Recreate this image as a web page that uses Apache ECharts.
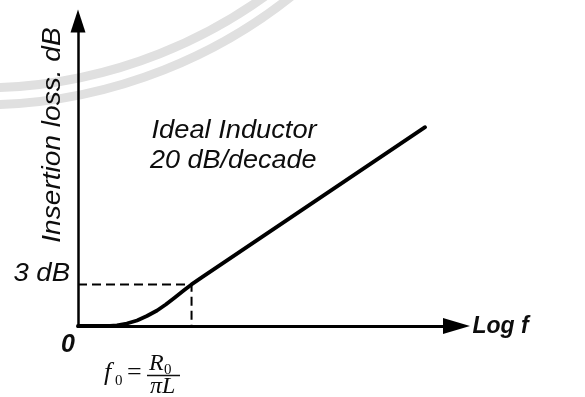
<!DOCTYPE html>
<html>
<head>
<meta charset="utf-8">
<script src="https://cdn.jsdelivr.net/npm/echarts@6/dist/echarts.min.js"></script>
<style>
  html, body { margin: 0; padding: 0; background: #fff; }
  #chart { width: 585px; height: 397px; }
</style>
</head>
<body>
<div id="chart"></div>
<script>
// Insertion loss of an ideal series inductor against log frequency
const logFreq = [0, 0.85, 1.03, 1.29, 1.56, 1.82, 2.09, 2.32, 2.56, 2.80, 3.0, 3.30, 9.17];
const lossDb  = [0, 0,    0.05, 0.18, 0.40, 0.72, 1.12, 1.55, 2.06, 2.58, 3.0, 3.56, 14.34];
// corner frequency f0 = R0 / (pi L), where the loss reaches 3 dB
const cornerLogFreq = 3.0;
const cornerDb = 3;
const xAxisMax = 10;
const yAxisMax = 22;

const sans = '"Liberation Sans", Arial, sans-serif';
const serif = '"Liberation Serif", "Times New Roman", serif';

const chart = echarts.init(document.getElementById('chart'), null, { renderer: 'canvas' });

const curve = logFreq.map((x, i) => [x, lossDb[i]]);
const guide = [[0, cornerDb], [cornerLogFreq, cornerDb], [cornerLogFreq, 0]];

chart.setOption({
  animation: false,
  backgroundColor: '#fff',
  grid: { left: 78, top: 21, width: 378.5, height: 305 },
  xAxis: {
    type: 'value', min: 0, max: xAxisMax,
    axisLine: {
      lineStyle: { color: '#000', width: 3 },
      symbol: ['none', 'triangle'], symbolSize: [16, 27]
    },
    axisTick: { show: false }, axisLabel: { show: false }, splitLine: { show: false }
  },
  yAxis: {
    type: 'value', min: 0, max: yAxisMax,
    axisLine: {
      show: true,
      lineStyle: { color: '#000', width: 2.5 },
      symbol: ['none', 'triangle'], symbolSize: [15, 23]
    },
    axisTick: { show: false }, axisLabel: { show: false }, splitLine: { show: false }
  },
  series: [
    {
      type: 'line', data: guide, showSymbol: false, clip: false, z: 2,
      lineStyle: { color: '#000', width: 2, type: [9, 5] }
    },
    {
      type: 'line', data: curve, showSymbol: false, clip: false, z: 3,
      lineStyle: { color: '#000', width: 3.8, cap: 'round', join: 'round' }
    }
  ]
});

const origin = chart.convertToPixel({ gridIndex: 0 }, [0, 0]);
const knee = chart.convertToPixel({ gridIndex: 0 }, [cornerLogFreq, cornerDb]);
const xEnd = chart.convertToPixel({ gridIndex: 0 }, [xAxisMax, 0]);

function label(text, x, y, opts) {
  return Object.assign({
    type: 'text', x: x, y: y, z: 10,
    style: Object.assign({
      text: text, fill: '#0d0d0d', fontFamily: sans, fontSize: 25,
      fontStyle: 'italic', align: 'left', verticalAlign: 'middle'
    }, opts.style || {})
  }, opts.el || {});
}

chart.setOption({
  graphic: [
    // faint seal rings in the top-left corner
    { type: 'circle', z: 0, silent: true, shape: { cx: -20, cy: -400, r: 488 },
      style: { fill: 'none', stroke: '#e0e0e0', lineWidth: 9 } },
    { type: 'circle', z: 0, silent: true, shape: { cx: -20, cy: -395, r: 500 },
      style: { fill: 'none', stroke: '#e0e0e0', lineWidth: 9 } },

    label('Insertion loss. dB', origin[0] - 25, 135,
      { el: { rotation: Math.PI / 2, scaleX: 1.08 }, style: { fontSize: 26, align: 'center' } }),
    label('Ideal Inductor', 151.5, 131.5, { el: { scaleX: 1.09 } }),
    label('20 dB/decade', 150, 161.5, { el: { scaleX: 1.08 } }),
    label(cornerDb + ' dB', origin[0] - 8, knee[1] - 10,
      { el: { scaleX: 1.1 }, style: { align: 'right' } }),
    label('0', origin[0] - 3, origin[1] + 19,
      { style: { align: 'right', fontWeight: 'bold' } }),
    label('Log f', xEnd[0] + 16, origin[1] + 1,
      { style: { fontSize: 23, fontWeight: 'bold' } }),

    // f0 = R0 / (pi L)
    label('f', 104, 373, { style: { fontFamily: serif, fontSize: 26 } }),
    label('0', 115, 381, { style: { fontFamily: serif, fontSize: 15, fontStyle: 'normal' } }),
    label('=', 127, 373.5, { style: { fontFamily: serif, fontSize: 26, fontStyle: 'normal' } }),
    label('R', 149, 363.8, { style: { fontFamily: serif, fontSize: 24 } }),
    label('0', 164, 370, { style: { fontFamily: serif, fontSize: 15, fontStyle: 'normal' } }),
    { type: 'line', z: 10, shape: { x1: 147, y1: 375.5, x2: 180, y2: 375.5 },
      style: { stroke: '#111', lineWidth: 1.5 } },
    label('\u03c0L', 150, 386.8, { style: { fontFamily: serif, fontSize: 24 } })
  ]
});
</script>
</body>
</html>
